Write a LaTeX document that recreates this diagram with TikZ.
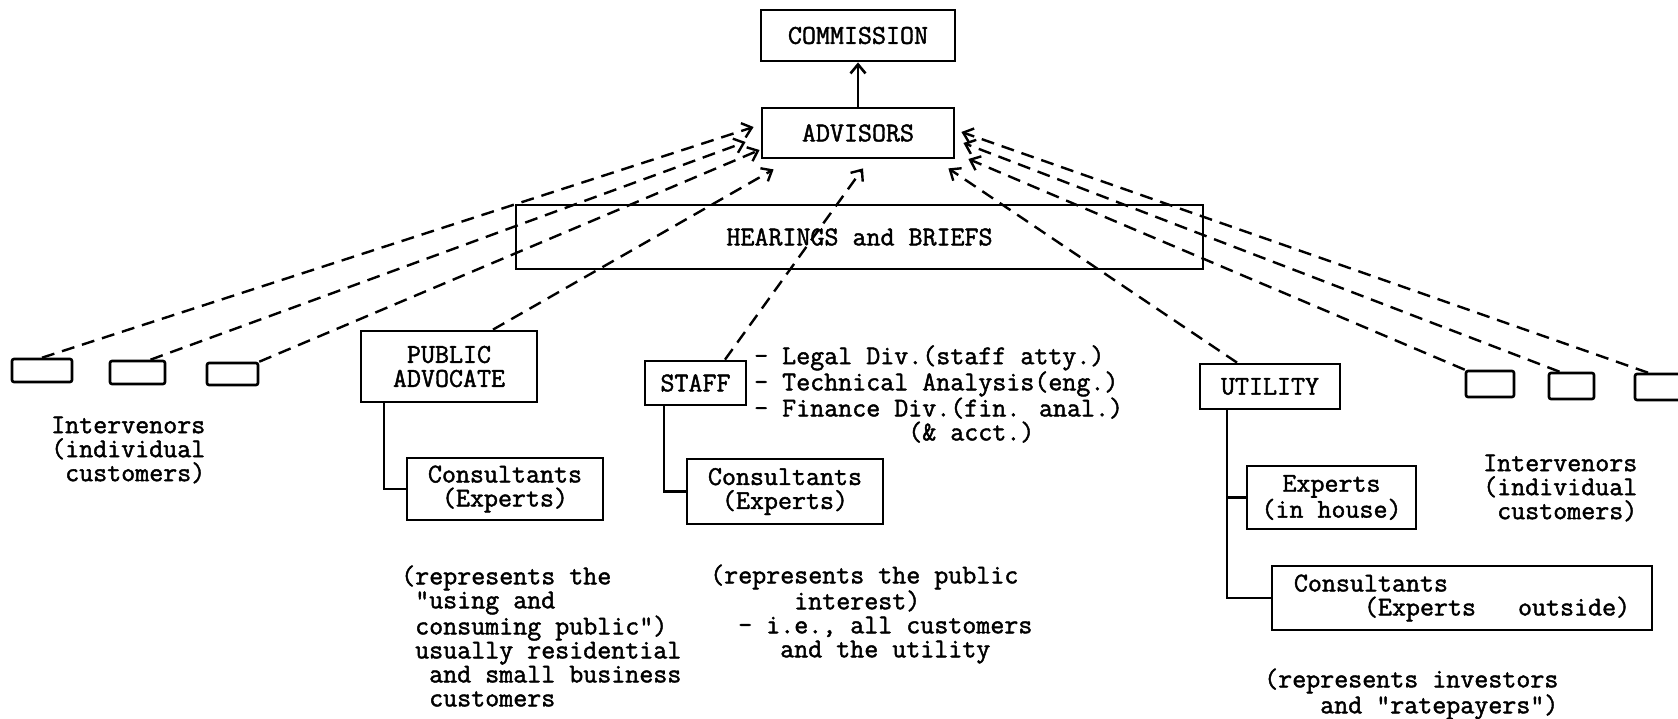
\documentclass[tikz,border=0pt]{standalone}
\usepackage{fontspec}
\newfontfamily\twfont{Latin Modern Mono}[FakeBold=1.6]
\usetikzlibrary{arrows.meta,calc}
\begin{document}
\begin{tikzpicture}[x=1pt,y=-1pt,
  every node/.style={font=\fontsize{27.2}{24}\selectfont\twfont},
  box/.style={draw, line width=2.8pt, inner sep=0pt},
  sbox/.style={draw, line width=2.6pt, rounded corners=2pt, inner sep=0pt},
  txt/.style={inner sep=0pt, anchor=west, align=left},
  dsh/.style={line width=2.4pt, dash pattern=on 13pt off 8pt, -{Straight Barb[length=9pt,width=15pt]}},
  tree/.style={line width=2.6pt},
]
\useasboundingbox (0,0) rectangle (1678,719);

% main boxes
\node[box, minimum width=194pt, minimum height=51pt] (com) at (858,35.5) {COMMISSION};
\node[box, minimum width=192pt, minimum height=50pt] (adv) at (858,133) {ADVISORS};
\node[box, minimum width=687pt, minimum height=64pt] (hb) at (859.5,237) {HEARINGS and BRIEFS};

% intervenor boxes left
\node[sbox, minimum width=60pt, minimum height=23pt] (l1) at (42,370.5) {};
\node[sbox, minimum width=55pt, minimum height=23pt] (l2) at (137.5,372.5) {};
\node[sbox, minimum width=51pt, minimum height=22pt] (l3) at (232.5,374) {};
% intervenor boxes right
\node[sbox, minimum width=48pt, minimum height=26pt] (r1) at (1490,384) {};
\node[sbox, minimum width=45pt, minimum height=26pt] (r2) at (1571.5,386) {};
\node[sbox, minimum width=50pt, minimum height=26pt] (r3) at (1660,387) {};

% parties
\node[box, minimum width=176pt, minimum height=71pt, align=center] (pa) at (449,366.5) {PUBLIC\\ADVOCATE};
\node[box, minimum width=196pt, minimum height=62pt, align=center] (pac) at (505,489) {Consultants\\(Experts)};
\node[box, minimum width=101pt, minimum height=44pt] (st) at (695.5,383) {STAFF};
\node[box, minimum width=196pt, minimum height=65pt, align=center] (stc) at (785,491.5) {Consultants\\(Experts)};
\node[box, minimum width=140pt, minimum height=45pt] (ut) at (1270,386.5) {UTILITY};
\node[box, minimum width=169pt, minimum height=63pt, align=center] (ex) at (1331.5,497.5) {Experts\\(in house)};
\node[box, minimum width=380pt, minimum height=64pt, align=left] (uco) at (1462,598) {Consultants\\\hphantom{xxxxx}(Experts\ \ \ outside)};

% texts
\node[txt] (lint) at (51,450) {Intervenors\\(individual\\\hphantom{x}customers)};
\node[txt] (rint) at (1483,488) {Intervenors\\(individual\\\hphantom{x}customers)};
\node[txt] (stl) at (754,394) {- Legal Div.(staff atty.)\\- Technical Analysis(eng.)\\- Finance Div.(fin. anal.)\\\hphantom{xxxxxxxxxxx}(\& acct.)};
\node[txt] (pad) at (401,636) {(represents the\\\hphantom{x}"using and\\\hphantom{x}consuming public")\\\hphantom{x}usually residential\\\hphantom{xx}and small business\\\hphantom{xx}customers};
\node[txt] (std) at (710,614) {(represents the public\\\hphantom{xxxxxx}interest)\\\hphantom{xx}- i.e., all customers\\\hphantom{xxxxx}and the utility};
\node[txt] (utd) at (1264,694) {(represents investors\\\hphantom{xxxx}and "ratepayers")};

% solid connectors
\draw[line width=2.6pt, -{Straight Barb[length=9pt,width=15pt]}] (adv) -- (com);
\draw[tree] ([xshift=-65pt]pa.south) |- (pac.west);
\draw[tree] ([xshift=-31.5pt]st.south) |- (stc.west);
\draw[tree] ([xshift=-43pt]ut.south) |- (uco.west);
\draw[tree] (ex.west) -- ++(-20,0);

% dashed connectors to advisors
\draw[dsh] (l1.north) -- ([shift={(-7,-6)}]adv.west);
\draw[dsh] ([xshift=13pt]l2.north) -- ([shift={(-15,9)}]adv.west);
\draw[dsh] (l3.north east) -- ([shift={(-1,17)}]adv.west);
\draw[dsh] ([xshift=44pt]pa.north) -- ([shift={(13,10)}]adv.south west);
\draw[dsh] ([xshift=29.5pt]st.north) -- ([shift={(5,9)}]adv.south);
\draw[dsh] ([xshift=-33pt]ut.north) -- ([shift={(-7,9)}]adv.south east);
\draw[dsh] ([xshift=-12pt]r3.north) -- ([shift={(6,-1)}]adv.east);
\draw[dsh] ([xshift=-12pt]r2.north) -- ([shift={(8,10)}]adv.east);
\draw[dsh] (r1.north west) -- ([shift={(13,26)}]adv.east);
\end{tikzpicture}
\end{document}
